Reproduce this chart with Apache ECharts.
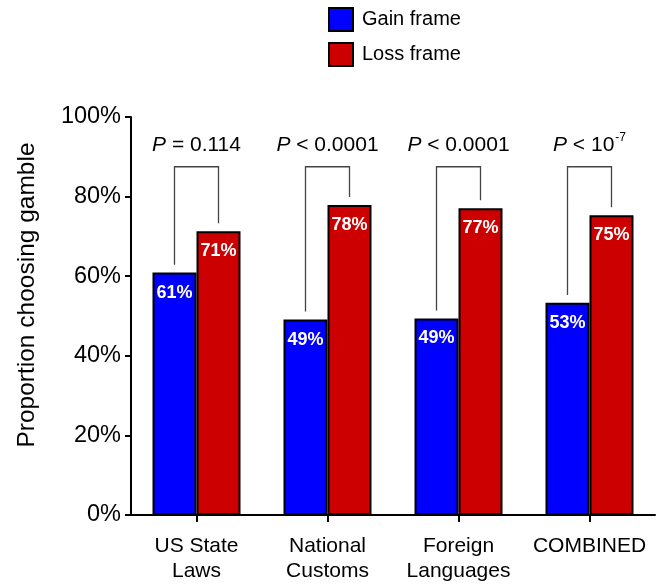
<!DOCTYPE html>
<html>
<head>
<meta charset="utf-8">
<script src="https://cdn.jsdelivr.net/npm/echarts@6/dist/echarts.min.js"></script>
<style>
html,body{margin:0;padding:0;background:#fff;}
#chart{width:664px;height:584px;}
</style>
</head>
<body>
<div id="chart"></div>
<script>
// ---- data ----
const categories = ['US State\nLaws', 'National\nCustoms', 'Foreign\nLanguages', 'COMBINED'];
const gainValues = [60.9, 49.1, 49.4, 53.3];
const lossValues = [71.3, 77.9, 77.1, 75.3];
const seriesNames = ['Gain frame', 'Loss frame'];
const pLabels = ['{i|P} = 0.114', '{i|P} < 0.0001', '{i|P} < 0.0001', '{i|P} < 10{sup|-7}'];
const bracketTop = 87.5;
const pLabelLevel = 93;
const legGap = 2;
const yTickValues = [0, 20, 40, 60, 80, 100];

const FONT = '"Liberation Sans", Arial, Helvetica, sans-serif';
const BAR_W = 44;

const chart = echarts.init(document.getElementById('chart'), null, {renderer: 'canvas'});

const bracketData = categories.map((c, i) => [i, gainValues[i], lossValues[i]]);

const option = {
  backgroundColor: '#fff',
  animation: false,
  textStyle: {fontFamily: FONT},
  legend: {
    orient: 'vertical',
    left: 328,
    top: 7,
    padding: 0,
    itemWidth: 24,
    itemHeight: 23,
    itemGap: 10,
    icon: 'rect',
    data: seriesNames,
    textStyle: {fontSize: 20, color: '#000', fontFamily: FONT, padding: [0, 0, 0, 4]}
  },
  grid: {left: 131, right: 9, top: 117, bottom: 67, containLabel: false},
  xAxis: {
    type: 'category',
    data: categories,
    axisLine: {lineStyle: {color: '#000', width: 2}},
    axisTick: {show: true, alignWithLabel: true, length: 7, lineStyle: {color: '#000', width: 2}},
    axisLabel: {color: '#000', fontSize: 21, fontFamily: FONT, margin: 19, lineHeight: 25, interval: 0}
  },
  yAxis: {
    type: 'value',
    min: 0,
    max: 100,
    interval: 20,
    splitLine: {show: false},
    axisLine: {show: true, lineStyle: {color: '#000', width: 2}},
    axisTick: {show: true, length: 6, lineStyle: {color: '#000', width: 2}},
    axisLabel: {color: '#000', fontSize: 23.5, fontFamily: FONT, margin: 10,
      formatter: v => (yTickValues.indexOf(v) >= 0 ? v + '%' : '')}
  },
  graphic: [{
    type: 'text',
    x: 27,
    y: 295,
    rotation: Math.PI / 2,
    style: {
      text: 'Proportion choosing gamble',
      fill: '#000',
      font: '24.5px ' + FONT,
      align: 'center',
      verticalAlign: 'middle'
    }
  }],
  series: [
    {
      name: seriesNames[0],
      type: 'bar',
      data: gainValues,
      barWidth: BAR_W,
      barGap: '0%',
      itemStyle: {color: '#0000ff', borderColor: '#000', borderWidth: 2},
      label: {show: true, position: 'insideTop', distance: 11, color: '#fff', fontWeight: 'bold', fontSize: 18, fontFamily: FONT,
        formatter: p => Math.round(p.value) + '%'}
    },
    {
      name: seriesNames[1],
      type: 'bar',
      data: lossValues,
      barWidth: BAR_W,
      barGap: '0%',
      itemStyle: {color: '#cc0000', borderColor: '#000', borderWidth: 2},
      label: {show: true, position: 'insideTop', distance: 11, color: '#fff', fontWeight: 'bold', fontSize: 18, fontFamily: FONT,
        formatter: p => Math.round(p.value) + '%'}
    },
    {
      type: 'custom',
      silent: true,
      z: 10,
      data: bracketData,
      encode: {x: 0, y: [1, 2]},
      renderItem: function (params, api) {
        const i = api.value(0);
        const g = api.value(1);
        const l = api.value(2);
        const cx = api.coord([i, 0])[0];
        const xl = cx - BAR_W / 2;
        const xr = cx + BAR_W / 2;
        const yTop = api.coord([i, bracketTop])[1];
        const yL = api.coord([i, g + legGap])[1];
        const yR = api.coord([i, l + legGap])[1];
        const yText = api.coord([i, pLabelLevel])[1];
        return {
          type: 'group',
          children: [
            {
              type: 'polyline',
              shape: {points: [[xl, yL], [xl, yTop], [xr, yTop], [xr, yR]]},
              style: {stroke: '#444', lineWidth: 1.3, fill: null}
            },
            {
              type: 'text',
              x: cx,
              y: yText,
              style: {
                text: pLabels[params.dataIndex],
                fill: '#000',
                font: '21px ' + FONT,
                align: 'center',
                verticalAlign: 'middle',
                rich: {
                  i: {fontStyle: 'italic', fontSize: 21, fontFamily: FONT, lineHeight: 26},
                  sup: {fontSize: 12, fontFamily: FONT, verticalAlign: 'top', lineHeight: 26, padding: [0, 0, 12, 1]}
                }
              }
            }
          ]
        };
      }
    }
  ]
};

chart.setOption(option);
</script>
</body>
</html>
